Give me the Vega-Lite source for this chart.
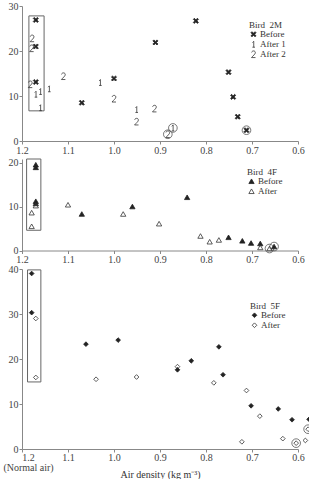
{
  "$schema": "https://vega.github.io/schema/vega-lite/v6.json",
  "padding": {"left": 2, "top": 1, "right": 0, "bottom": 0},
  "datasets": {
    "pts": [
      {"bird": "2M", "group": "Before", "density": 1.17, "value": 26.9, "circled": false},
      {"bird": "2M", "group": "Before", "density": 1.17, "value": 21.0, "circled": false},
      {"bird": "2M", "group": "Before", "density": 1.17, "value": 13.1, "circled": false},
      {"bird": "2M", "group": "Before", "density": 1.07, "value": 8.5, "circled": false},
      {"bird": "2M", "group": "Before", "density": 1.0, "value": 13.9, "circled": false},
      {"bird": "2M", "group": "Before", "density": 0.91, "value": 21.9, "circled": false},
      {"bird": "2M", "group": "Before", "density": 0.822, "value": 26.7, "circled": false},
      {"bird": "2M", "group": "Before", "density": 0.751, "value": 15.3, "circled": false},
      {"bird": "2M", "group": "Before", "density": 0.741, "value": 9.8, "circled": false},
      {"bird": "2M", "group": "Before", "density": 0.731, "value": 5.4, "circled": false},
      {"bird": "2M", "group": "Before", "density": 0.712, "value": 2.4, "circled": true},
      {"bird": "2M", "group": "After 1", "density": 1.17, "value": 10.4, "circled": false},
      {"bird": "2M", "group": "After 1", "density": 1.16, "value": 11.0, "circled": false},
      {"bird": "2M", "group": "After 1", "density": 1.16, "value": 7.4, "circled": false},
      {"bird": "2M", "group": "After 1", "density": 1.141, "value": 11.6, "circled": false},
      {"bird": "2M", "group": "After 1", "density": 1.03, "value": 13.0, "circled": false},
      {"bird": "2M", "group": "After 1", "density": 0.951, "value": 7.0, "circled": false},
      {"bird": "2M", "group": "After 1", "density": 0.872, "value": 2.9, "circled": true},
      {"bird": "2M", "group": "After 2", "density": 1.178, "value": 22.8, "circled": false},
      {"bird": "2M", "group": "After 2", "density": 1.179, "value": 20.6, "circled": false},
      {"bird": "2M", "group": "After 2", "density": 1.182, "value": 12.6, "circled": false},
      {"bird": "2M", "group": "After 2", "density": 1.11, "value": 14.4, "circled": false},
      {"bird": "2M", "group": "After 2", "density": 1.0, "value": 9.4, "circled": false},
      {"bird": "2M", "group": "After 2", "density": 0.951, "value": 4.3, "circled": false},
      {"bird": "2M", "group": "After 2", "density": 0.912, "value": 7.2, "circled": false},
      {"bird": "2M", "group": "After 2", "density": 0.883, "value": 1.5, "circled": true},

      {"bird": "4F", "group": "Before", "density": 1.17, "value": 19.5, "circled": false},
      {"bird": "4F", "group": "Before", "density": 1.17, "value": 18.9, "circled": false},
      {"bird": "4F", "group": "Before", "density": 1.17, "value": 11.2, "circled": false},
      {"bird": "4F", "group": "Before", "density": 1.17, "value": 10.7, "circled": false},
      {"bird": "4F", "group": "Before", "density": 1.07, "value": 8.3, "circled": false},
      {"bird": "4F", "group": "Before", "density": 0.96, "value": 10.0, "circled": false},
      {"bird": "4F", "group": "Before", "density": 0.841, "value": 12.1, "circled": false},
      {"bird": "4F", "group": "Before", "density": 0.751, "value": 3.0, "circled": false},
      {"bird": "4F", "group": "Before", "density": 0.721, "value": 2.2, "circled": false},
      {"bird": "4F", "group": "Before", "density": 0.702, "value": 1.7, "circled": false},
      {"bird": "4F", "group": "Before", "density": 0.682, "value": 1.6, "circled": false},
      {"bird": "4F", "group": "Before", "density": 0.652, "value": 0.9, "circled": true},
      {"bird": "4F", "group": "After", "density": 1.179, "value": 8.6, "circled": false},
      {"bird": "4F", "group": "After", "density": 1.179, "value": 5.5, "circled": false},
      {"bird": "4F", "group": "After", "density": 1.17, "value": 10.2, "circled": false},
      {"bird": "4F", "group": "After", "density": 1.10, "value": 10.4, "circled": false},
      {"bird": "4F", "group": "After", "density": 0.98, "value": 8.3, "circled": false},
      {"bird": "4F", "group": "After", "density": 0.902, "value": 6.1, "circled": false},
      {"bird": "4F", "group": "After", "density": 0.812, "value": 3.3, "circled": false},
      {"bird": "4F", "group": "After", "density": 0.792, "value": 2.0, "circled": false},
      {"bird": "4F", "group": "After", "density": 0.772, "value": 2.4, "circled": false},
      {"bird": "4F", "group": "After", "density": 0.682, "value": 0.7, "circled": false},
      {"bird": "4F", "group": "After", "density": 0.662, "value": 0.45, "circled": true},

      {"bird": "5F", "group": "Before", "density": 1.179, "value": 39.0, "circled": false},
      {"bird": "5F", "group": "Before", "density": 1.179, "value": 30.3, "circled": false},
      {"bird": "5F", "group": "Before", "density": 1.061, "value": 23.3, "circled": false},
      {"bird": "5F", "group": "Before", "density": 0.991, "value": 24.2, "circled": false},
      {"bird": "5F", "group": "Before", "density": 0.862, "value": 17.6, "circled": false},
      {"bird": "5F", "group": "Before", "density": 0.832, "value": 19.6, "circled": false},
      {"bird": "5F", "group": "Before", "density": 0.772, "value": 22.7, "circled": false},
      {"bird": "5F", "group": "Before", "density": 0.763, "value": 16.5, "circled": false},
      {"bird": "5F", "group": "Before", "density": 0.702, "value": 9.6, "circled": false},
      {"bird": "5F", "group": "Before", "density": 0.643, "value": 8.9, "circled": false},
      {"bird": "5F", "group": "Before", "density": 0.613, "value": 6.5, "circled": false},
      {"bird": "5F", "group": "Before", "density": 0.576, "value": 6.6, "circled": false},
      {"bird": "5F", "group": "After", "density": 1.17, "value": 29.0, "circled": false},
      {"bird": "5F", "group": "After", "density": 1.17, "value": 15.9, "circled": false},
      {"bird": "5F", "group": "After", "density": 1.039, "value": 15.5, "circled": false},
      {"bird": "5F", "group": "After", "density": 0.951, "value": 16.0, "circled": false},
      {"bird": "5F", "group": "After", "density": 0.862, "value": 18.3, "circled": false},
      {"bird": "5F", "group": "After", "density": 0.783, "value": 14.7, "circled": false},
      {"bird": "5F", "group": "After", "density": 0.712, "value": 13.0, "circled": false},
      {"bird": "5F", "group": "After", "density": 0.683, "value": 7.3, "circled": false},
      {"bird": "5F", "group": "After", "density": 0.722, "value": 1.6, "circled": false},
      {"bird": "5F", "group": "After", "density": 0.633, "value": 2.3, "circled": false},
      {"bird": "5F", "group": "After", "density": 0.584, "value": 1.9, "circled": false},
      {"bird": "5F", "group": "After", "density": 0.604, "value": 1.3, "circled": true},
      {"bird": "5F", "group": "After", "density": 0.578, "value": 4.4, "circled": true}
    ],
    "boxes": [
      {"bird": "2M", "d1": 1.185, "d2": 1.152, "v1": 6.7, "v2": 27.8},
      {"bird": "4F", "d1": 1.19, "d2": 1.159, "v1": 4.6, "v2": 20.8},
      {"bird": "5F", "d1": 1.188, "d2": 1.159, "v1": 14.9, "v2": 39.8}
    ]
  },
  "spacing": 18,
  "bounds": "flush",
  "resolve": {
    "scale": {"shape": "independent", "fill": "independent", "stroke": "independent", "size": "independent", "y": "independent"},
    "legend": {"shape": "independent", "fill": "independent", "stroke": "independent", "size": "independent"}
  },
  "vconcat": [
    {
      "width": 276,
      "height": 135,
      "layer": [
        {
          "data": {"name": "boxes"},
          "transform": [{"filter": "datum.bird == '2M'"}],
          "mark": {"type": "rect", "fill": null, "stroke": "#666", "strokeWidth": 1},
          "encoding": {
            "x": {"field": "d1", "type": "quantitative", "scale": {"domain": [1.2, 0.6], "nice": false, "zero": false}, "title": null,
              "axis": {"values": [1.2, 1.15, 1.1, 1.05, 1.0, 0.95, 0.9, 0.85, 0.8, 0.75, 0.7, 0.65, 0.6],
                "labelExpr": "abs(datum.value * 10 - round(datum.value * 10)) < 0.01 ? format(datum.value, '.1f') : ''"}},
            "x2": {"field": "d2"},
            "y": {"field": "v1", "type": "quantitative", "scale": {"domain": [0, 30], "nice": false}, "title": null,
              "axis": {"values": [0, 2.5, 5, 7.5, 10, 12.5, 15, 17.5, 20, 22.5, 25, 27.5, 30],
                "labelExpr": "datum.value % 5 == 0 ? datum.label : ''",
                "tickSize": {"condition": {"test": "datum.value % 5 != 0", "value": 2}, "value": 3}}},
            "y2": {"field": "v2"}
          }
        },
        {
          "data": {"name": "pts"},
          "transform": [{"filter": "datum.bird == '2M' && datum.circled"}],
          "mark": {"type": "point", "shape": "circle", "size": 75, "filled": false, "stroke": "#555", "strokeWidth": 0.8, "opacity": 1},
          "encoding": {
            "x": {"field": "density", "type": "quantitative"},
            "y": {"field": "value", "type": "quantitative"}
          }
        },
        {
          "data": {"name": "pts"},
          "transform": [{"filter": "datum.bird == '2M'"}],
          "mark": {"type": "point", "filled": true, "strokeWidth": 0.8, "opacity": 1},
          "encoding": {
            "x": {"field": "density", "type": "quantitative"},
            "y": {"field": "value", "type": "quantitative"},
            "shape": {"field": "group", "type": "nominal",
              "scale": {"domain": ["Before", "After 1", "After 2"],
                "range": [
                  "M-1,-0.6L-0.6,-1L0,-0.4L0.6,-1L1,-0.6L0.4,0L1,0.6L0.6,1L0,0.4L-0.6,1L-1,0.6L-0.4,0Z",
                  "M-0.35,-0.55L0.08,-1V1M-0.38,1H0.5",
                  "M-0.55,-0.55C-0.5,-0.9 -0.2,-1 0.05,-1C0.4,-1 0.55,-0.75 0.55,-0.45C0.55,-0.05 -0.1,0.4 -0.6,1H0.6"
                ]},
              "legend": {"title": "Bird\u00a0\u00a02M", "orient": "none", "legendX": 227, "legendY": 15, "clipHeight": 8.5}},
            "fill": {"field": "group", "type": "nominal",
              "scale": {"domain": ["Before", "After 1", "After 2"], "range": ["#222", "transparent", "transparent"]}},
            "stroke": {"field": "group", "type": "nominal",
              "scale": {"domain": ["Before", "After 1", "After 2"], "range": ["#222", "#333", "#333"]}},
            "size": {"field": "group", "type": "nominal",
              "scale": {"domain": ["Before", "After 1", "After 2"], "range": [26, 44, 44]}}
          }
        }
      ]
    },
    {
      "width": 276,
      "height": 91.5,
      "layer": [
        {
          "data": {"name": "boxes"},
          "transform": [{"filter": "datum.bird == '4F'"}],
          "mark": {"type": "rect", "fill": null, "stroke": "#666", "strokeWidth": 1},
          "encoding": {
            "x": {"field": "d1", "type": "quantitative", "scale": {"domain": [1.2, 0.6], "nice": false, "zero": false}, "title": null,
              "axis": {"values": [1.2, 1.15, 1.1, 1.05, 1.0, 0.95, 0.9, 0.85, 0.8, 0.75, 0.7, 0.65, 0.6],
                "labelExpr": "abs(datum.value * 10 - round(datum.value * 10)) < 0.01 ? format(datum.value, '.1f') : ''"}},
            "x2": {"field": "d2"},
            "y": {"field": "v1", "type": "quantitative", "scale": {"domain": [0, 20.8], "nice": false}, "title": null,
              "axis": {"values": [0, 2.5, 5, 7.5, 10, 12.5, 15, 17.5, 20],
                "labelExpr": "datum.value % 5 == 0 ? datum.label : ''",
                "tickSize": {"condition": {"test": "datum.value % 5 != 0", "value": 2}, "value": 3}}},
            "y2": {"field": "v2"}
          }
        },
        {
          "data": {"name": "pts"},
          "transform": [{"filter": "datum.bird == '4F' && datum.circled"}],
          "mark": {"type": "point", "shape": "circle", "size": 75, "filled": false, "stroke": "#555", "strokeWidth": 0.8, "opacity": 1},
          "encoding": {
            "x": {"field": "density", "type": "quantitative"},
            "y": {"field": "value", "type": "quantitative"}
          }
        },
        {
          "data": {"name": "pts"},
          "transform": [{"filter": "datum.bird == '4F'"}],
          "mark": {"type": "point", "filled": true, "strokeWidth": 0.8, "opacity": 1, "size": 28},
          "encoding": {
            "x": {"field": "density", "type": "quantitative"},
            "y": {"field": "value", "type": "quantitative"},
            "shape": {"field": "group", "type": "nominal",
              "scale": {"domain": ["Before", "After"], "range": ["triangle-up", "triangle-up"]},
              "legend": {"title": "Bird\u00a0\u00a04F", "orient": "none", "legendX": 225, "legendY": 9, "symbolSize": 28, "clipHeight": 8.5}},
            "fill": {"field": "group", "type": "nominal",
              "scale": {"domain": ["Before", "After"], "range": ["#222", "transparent"]}},
            "stroke": {"field": "group", "type": "nominal",
              "scale": {"domain": ["Before", "After"], "range": ["#222", "#333"]}}
          }
        }
      ]
    },
    {
      "width": 276,
      "height": 180,
      "layer": [
        {
          "data": {"name": "boxes"},
          "transform": [{"filter": "datum.bird == '5F'"}],
          "mark": {"type": "rect", "fill": null, "stroke": "#666", "strokeWidth": 1},
          "encoding": {
            "x": {"field": "d1", "type": "quantitative", "scale": {"domain": [1.2, 0.6], "nice": false, "zero": false},
              "title": "Air density (kg m\u207b\u00b3)",
              "axis": {"values": [1.2, 1.15, 1.1, 1.05, 1.0, 0.95, 0.9, 0.85, 0.8, 0.75, 0.7, 0.65, 0.6],
                "labelExpr": "datum.value > 1.19 ? ['1.2', '(Normal air)'] : (abs(datum.value * 10 - round(datum.value * 10)) < 0.01 ? format(datum.value, '.1f') : '')",
                "labelOffset": {"condition": {"test": "datum.value > 1.19", "value": 6}, "value": 0},
                "labelLineHeight": 10, "labelPadding": 0, "titlePadding": -3}},
            "x2": {"field": "d2"},
            "y": {"field": "v1", "type": "quantitative", "scale": {"domain": [0, 40], "nice": false}, "title": null,
              "axis": {"values": [0, 2.5, 5, 7.5, 10, 12.5, 15, 17.5, 20, 22.5, 25, 27.5, 30, 32.5, 35, 37.5, 40],
                "labelExpr": "datum.value % 5 == 0 ? datum.label : ''",
                "tickSize": {"condition": {"test": "datum.value % 5 != 0", "value": 2}, "value": 3}}},
            "y2": {"field": "v2"}
          }
        },
        {
          "data": {"name": "pts"},
          "transform": [{"filter": "datum.bird == '5F' && datum.circled"}],
          "mark": {"type": "point", "shape": "circle", "size": 75, "filled": false, "stroke": "#555", "strokeWidth": 0.8, "opacity": 1},
          "encoding": {
            "x": {"field": "density", "type": "quantitative"},
            "y": {"field": "value", "type": "quantitative"}
          }
        },
        {
          "data": {"name": "pts"},
          "transform": [{"filter": "datum.bird == '5F'"}],
          "mark": {"type": "point", "filled": true, "strokeWidth": 0.8, "opacity": 1, "size": 22},
          "encoding": {
            "x": {"field": "density", "type": "quantitative"},
            "y": {"field": "value", "type": "quantitative"},
            "shape": {"field": "group", "type": "nominal",
              "scale": {"domain": ["Before", "After"], "range": ["diamond", "diamond"]},
              "legend": {"title": "Bird\u00a0\u00a05F", "orient": "none", "legendX": 228, "legendY": 33, "symbolSize": 22, "clipHeight": 8.5}},
            "fill": {"field": "group", "type": "nominal",
              "scale": {"domain": ["Before", "After"], "range": ["#222", "transparent"]}},
            "stroke": {"field": "group", "type": "nominal",
              "scale": {"domain": ["Before", "After"], "range": ["#222", "#333"]}}
          }
        }
      ]
    }
  ],
  "config": {
    "font": "Liberation Serif",
    "view": {"stroke": null},
    "axis": {
      "labelFont": "Liberation Serif", "labelFontSize": 10, "labelColor": "#444",
      "domainColor": "#888", "tickColor": "#888", "tickSize": 3, "labelPadding": 1,
      "grid": false, "labelOverlap": false, "labelFlush": false,
      "titleFont": "Liberation Serif", "titleFontWeight": "normal", "titleFontSize": 10, "titleColor": "#333"
    },
    "legend": {
      "titleFont": "Liberation Serif", "titleFontWeight": "normal", "titleFontSize": 9, "titleColor": "#333",
      "labelFont": "Liberation Serif", "labelFontSize": 9, "labelColor": "#333",
      "titlePadding": 0, "rowPadding": 0, "padding": 0, "labelOffset": 2,
      "symbolStrokeWidth": 0.8
    }
  }
}
